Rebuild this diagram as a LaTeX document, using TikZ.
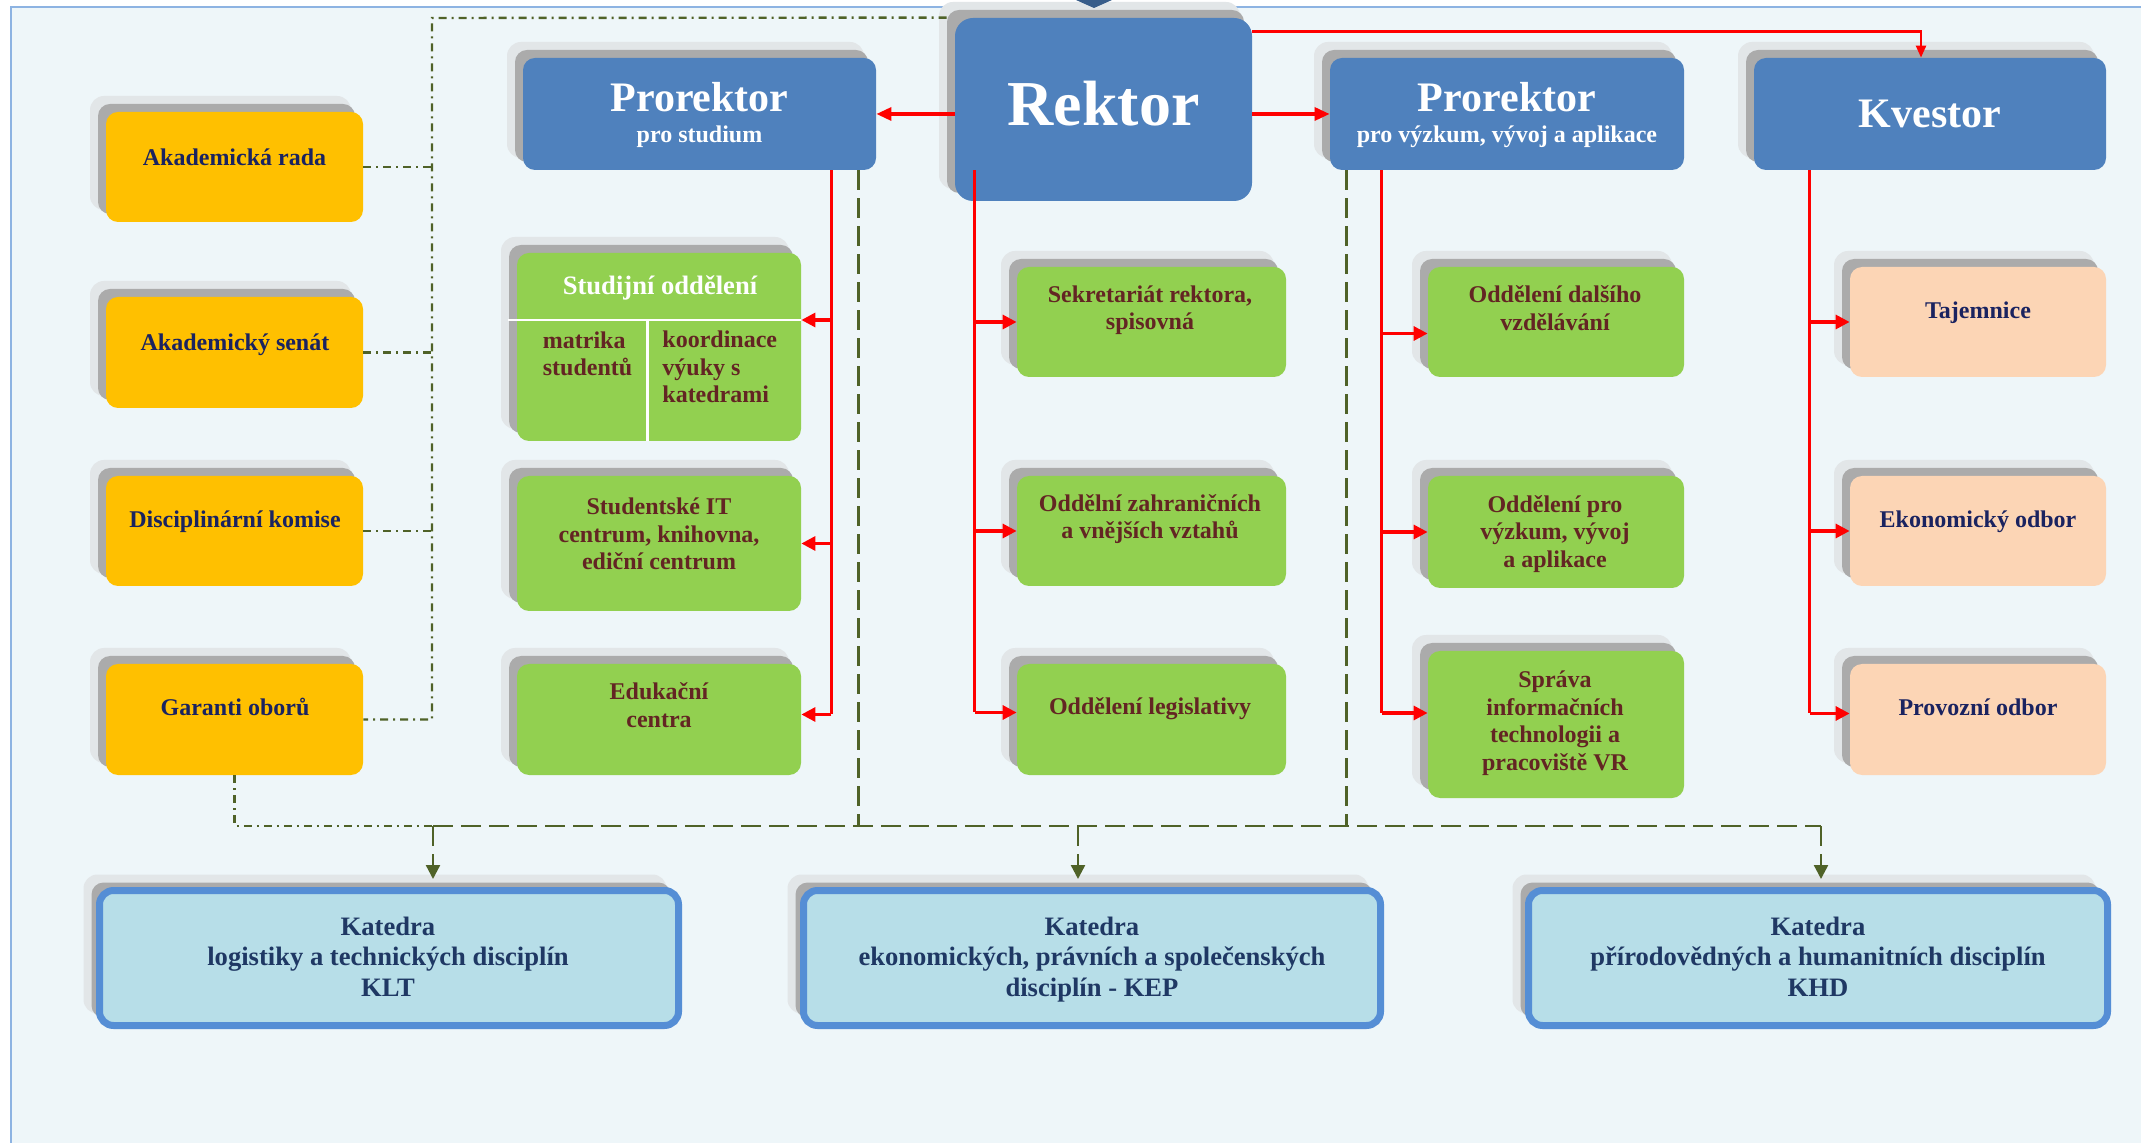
\documentclass[tikz,border=0pt]{standalone}
\usepackage{fontspec}
\setmainfont{Liberation Serif}
\usetikzlibrary{arrows.meta,calc}
\definecolor{bgc}{HTML}{EEF6F9}
\definecolor{borderc}{HTML}{8DB3E2}
\definecolor{headblue}{HTML}{4F81BD}
\definecolor{yellowc}{HTML}{FFC000}
\definecolor{greenc}{HTML}{92D050}
\definecolor{peachc}{HTML}{FCD5B5}
\definecolor{katfill}{HTML}{B7DEE8}
\definecolor{katborder}{HTML}{558ED5}
\definecolor{shadowc}{HTML}{ABABAB}
\definecolor{haloc}{HTML}{E2E6E8}
\definecolor{navyc}{HTML}{1A2360}
\definecolor{maroonc}{HTML}{632523}
\definecolor{katext}{HTML}{1F3864}
\definecolor{olivec}{HTML}{4F6228}
\definecolor{trianglec}{HTML}{385D8A}

\newcommand\orgbox[6]{%
  \fill[haloc, rounded corners=7pt] ({#2-16},{#3-16}) rectangle ({#4-12},{#5-12});
  \fill[shadowc, rounded corners=6pt] ({#2-8},{#3-8}) rectangle ({#4-8},{#5-8});
  \node[#6, inner sep=0pt, minimum width={(#4-#2)*0.5pt}, minimum height={(#5-#3)*0.5pt}] (#1) at ({(#2+#4)/2},{(#3+#5)/2}) {};
}

\tikzset{
  yellowbox/.style={fill=yellowc, rounded corners=6pt},
  bluebox/.style={fill=headblue, rounded corners=6pt},
  rektorbox/.style={fill=headblue, rounded corners=9pt},
  greenbox/.style={fill=greenc, rounded corners=6pt},
  peachbox/.style={fill=peachc, rounded corners=6pt},
  katbox/.style={fill=katfill, draw=katborder, line width=3.5pt, rounded corners=7pt},
  txt/.style={inner sep=0pt, align=center, font=\bfseries\fontsize{12}{13.75}\selectfont},
  navytxt/.style={txt, text=navyc},
  marotxt/.style={txt, text=maroonc},
  kattxt/.style={inner sep=0pt, align=center, text=katext, font=\bfseries\fontsize{13.3}{15.3}\selectfont},
  headtxt/.style={inner sep=0pt, anchor=base, text=white, font=\bfseries\fontsize{21}{24}\selectfont},
  subtxt/.style={inner sep=0pt, anchor=base, text=white, font=\bfseries\fontsize{12}{14}\selectfont},
  redtrunk/.style={draw=red, line width=1.2pt},
  redbranch/.style={draw=red, line width=1.6pt, -{Triangle[length=7pt,width=7pt]}},
  redmain/.style={draw=red, line width=1.6pt, -{Triangle[length=7.5pt,width=6.5pt]}},
  redtop/.style={draw=red, line width=1.2pt, -{Triangle[length=6pt,width=5pt]}},
  olivedash/.style={draw=olivec, line width=1.2pt, dash pattern=on 10pt off 4pt},
  dashdotline/.style={draw=olivec, line width=1.2pt, dash pattern=on 4pt off 2.5pt on 1pt off 2.5pt},
  olivearrow/.style={olivedash, -{Triangle[length=7pt,width=7pt]}},
}

\begin{document}
\begin{tikzpicture}[x=0.5pt,y=-0.5pt]
\useasboundingbox (0,0) rectangle (2141,1143);
\fill[white] (0,0) rectangle (2141,1143);
\fill[bgc] (11,7) rectangle (2141,1143);
\draw[borderc, line width=1.4pt] (11,1143) -- (11,7) -- (2141,7);

% yellow column
\orgbox{akrada}{106}{112}{363}{222}{yellowbox}
\orgbox{senat}{106}{297}{363}{408}{yellowbox}
\orgbox{komise}{106}{476}{363}{586}{yellowbox}
\orgbox{garanti}{106}{664}{363}{775}{yellowbox}

% header row
\orgbox{pstud}{523}{58}{876}{170}{bluebox}
\orgbox{rektor}{955}{18}{1252}{201}{rektorbox}
\orgbox{pvav}{1330}{58}{1684}{170}{bluebox}
\orgbox{kvestor}{1754}{58}{2106}{170}{bluebox}

% study column
\orgbox{studij}{517}{253}{801}{441}{greenbox}
\orgbox{studit}{517}{476}{801}{611}{greenbox}
\orgbox{eduk}{517}{664}{801}{775}{greenbox}

% rector column
\orgbox{sekr}{1017}{267}{1286}{377}{greenbox}
\orgbox{zahr}{1017}{476}{1286}{586}{greenbox}
\orgbox{legis}{1017}{664}{1286}{775}{greenbox}

% research column
\orgbox{dalsi}{1428}{267}{1684}{377}{greenbox}
\orgbox{pvyz}{1428}{476}{1684}{588}{greenbox}
\orgbox{sprava}{1428}{651}{1684}{798}{greenbox}

% bursar column
\orgbox{tajem}{1850}{267}{2106}{377}{peachbox}
\orgbox{ekon}{1850}{476}{2106}{586}{peachbox}
\orgbox{provoz}{1850}{664}{2106}{775}{peachbox}

% departments
\orgbox{klt}{99.5}{890.5}{678.5}{1025.5}{katbox}
\orgbox{kep}{803.5}{890.5}{1380.5}{1025.5}{katbox}
\orgbox{khd}{1528.5}{890.5}{2107.5}{1025.5}{katbox}

% Studijni oddeleni dividers
\draw[white, line width=1.2pt] (508,320) -- (801,320);
\draw[white, line width=1.4pt] (647.5,320) -- (647.5,441);

% texts
\node[navytxt] (t-akrada) at (234.5,157) {Akademická rada};
\node[navytxt] (t-senat) at (235,345) {Akademický senát};
\node[navytxt] (t-komise) at (235,522) {Disciplinární komise};
\node[navytxt] (t-garanti) at (235,707) {Garanti oborů};

\node[headtxt] (t-pstud1) at (699.5,112) {Prorektor};
\node[subtxt] (t-pstud2) at (699.5,143) {pro studium};
\node[inner sep=0pt, anchor=base, text=white, font=\bfseries\fontsize{32}{36}\selectfont] (t-rektor) at (1103.5,126) {Rektor};
\node[headtxt] (t-pvav1) at (1507,112) {Prorektor};
\node[subtxt] (t-pvav2) at (1507,143) {pro výzkum, vývoj a aplikace};
\node[headtxt] (t-kvestor) at (1930,128) {Kvestor};

\node[txt, text=white, font=\bfseries\fontsize{13.3}{15}\selectfont] (t-studij) at (660,288) {Studijní oddělení};
\node[marotxt, align=left, anchor=west] (t-matrika) at (542.5,354) {matrika\\studentů};
\node[marotxt, align=left, anchor=west] (t-koord) at (662,367) {koordinace\\výuky s\\katedrami};
\node[marotxt] (t-studit) at (659,534) {Studentské IT\\centrum, knihovna,\\ediční centrum};
\node[marotxt] (t-eduk) at (659,705) {Edukační\\centra};

\node[marotxt] (t-sekr) at (1150,310) {Sekretariát rektora,\\spisovná};
\node[marotxt] (t-zahr) at (1150,519) {Oddělní zahraničních\\a vnějších vztahů};
\node[marotxt] (t-legis) at (1150,709) {Oddělení legislativy};

\node[marotxt] (t-dalsi) at (1555,308) {Oddělení dalšího\\vzdělávání};
\node[marotxt] (t-pvyz) at (1555,534) {Oddělení pro\\výzkum, vývoj\\a aplikace};
\node[marotxt] (t-sprava) at (1555,723) {Správa\\informačních\\technologii a\\pracoviště VR};

\node[navytxt] (t-tajem) at (1978,313) {Tajemnice};
\node[navytxt] (t-ekon) at (1978,522) {Ekonomický odbor};
\node[navytxt] (t-provoz) at (1978,707.5) {Provozní odbor};

\node[kattxt] (t-klt) at (388,956.5) {Katedra\\logistiky a technických disciplín\\KLT};
\node[kattxt] (t-kep) at (1092,959.5) {Katedra\\ekonomických, právních a společenských\\disciplín - KEP};
\node[kattxt] (t-khd) at (1818,956.5) {Katedra\\přírodovědných a humanitních disciplín\\KHD};

% red connectors from Rektor
\draw[redmain] (rektor.west |- pstud.east) -- (pstud.east);
\draw[redmain] (rektor.east |- pvav.west) -- (pvav.west);
\draw[redtop] ([yshift=-7pt]rektor.north east) -| ([xshift=-4.5pt]kvestor.north);

\coordinate (rk-d) at ($(rektor.south west)+(20,-31)$);
\coordinate (ps-d) at ($(pstud.south east)+(-45,0)$);
\coordinate (pv-d) at ($(pvav.south west)+(52,0)$);
\coordinate (kv-d) at ($(kvestor.south west)+(56,0)$);

\coordinate (studij-in) at ($(studij.east)+(0,-27)$);
\coordinate (studit-in) at (studit.east);
\coordinate (eduk-in) at ($(eduk.east)+(0,-5)$);
\coordinate (sekr-in) at (sekr.west);
\coordinate (zahr-in) at (zahr.west);
\coordinate (legis-in) at ($(legis.west)+(0,-7)$);
\coordinate (dalsi-in) at ($(dalsi.west)+(0,11.5)$);
\coordinate (pvyz-in) at (pvyz.west);
\coordinate (sprava-in) at ($(sprava.west)+(0,-11.5)$);
\coordinate (tajem-in) at (tajem.west);
\coordinate (ekon-in) at (ekon.west);
\coordinate (provoz-in) at ($(provoz.west)+(0,-6)$);

\draw[redtrunk] (ps-d) -- (ps-d |- eduk-in);
\draw[redbranch] (ps-d |- studij-in) -- (studij-in);
\draw[redbranch] (ps-d |- studit-in) -- (studit-in);
\draw[redbranch] (ps-d |- eduk-in) -- (eduk-in);

\draw[redtrunk] (rk-d) -- (rk-d |- legis-in);
\draw[redbranch] (rk-d |- sekr-in) -- (sekr-in);
\draw[redbranch] (rk-d |- zahr-in) -- (zahr-in);
\draw[redbranch] (rk-d |- legis-in) -- (legis-in);

\draw[redtrunk] (pv-d) -- (pv-d |- sprava-in);
\draw[redbranch] (pv-d |- dalsi-in) -- (dalsi-in);
\draw[redbranch] (pv-d |- pvyz-in) -- (pvyz-in);
\draw[redbranch] (pv-d |- sprava-in) -- (sprava-in);

\draw[redtrunk] (kv-d) -- (kv-d |- provoz-in);
\draw[redbranch] (kv-d |- tajem-in) -- (tajem-in);
\draw[redbranch] (kv-d |- ekon-in) -- (ekon-in);
\draw[redbranch] (kv-d |- provoz-in) -- (provoz-in);

% dash-dot links of the advisory bodies
\coordinate (dtop) at (432,18);
\coordinate (rkw) at ($(rektor.north west)+(-8,0)$);
\draw[dashdotline] (rkw) -- (dtop) |- (garanti.east);
\draw[dashdotline] (akrada.east) -- (akrada.east -| dtop);
\draw[dashdotline] (senat.east) -- (senat.east -| dtop);
\draw[dashdotline] (komise.east) -- (komise.east -| dtop);

% olive dashed links to departments
\coordinate (ps-o) at ($(pstud.south east)+(-18,0)$);
\coordinate (pv-o) at ($(pvav.south west)+(17,0)$);
\coordinate (bj) at (433,826);
\coordinate (bm) at (1078,826);
\coordinate (br) at (1821,826);
\draw[dashdotline] (garanti.south) |- (bj);
\draw[olivedash] (bj) -- (br);
\draw[olivedash] (ps-o) -- (ps-o |- bj);
\draw[olivedash] (pv-o) -- (pv-o |- bj);
\draw[olivearrow] (bj) -- ($(klt.north -| bj)+(0,-8)$);
\draw[olivearrow] (bm) -- ($(kep.north -| bm)+(0,-8)$);
\draw[olivearrow] (br) -- ($(khd.north -| br)+(0,-8)$);

% partial triangle at top
\fill[trianglec] (1076,0) -- (1112,0) -- (1094,8) -- cycle;
\end{tikzpicture}
\end{document}
